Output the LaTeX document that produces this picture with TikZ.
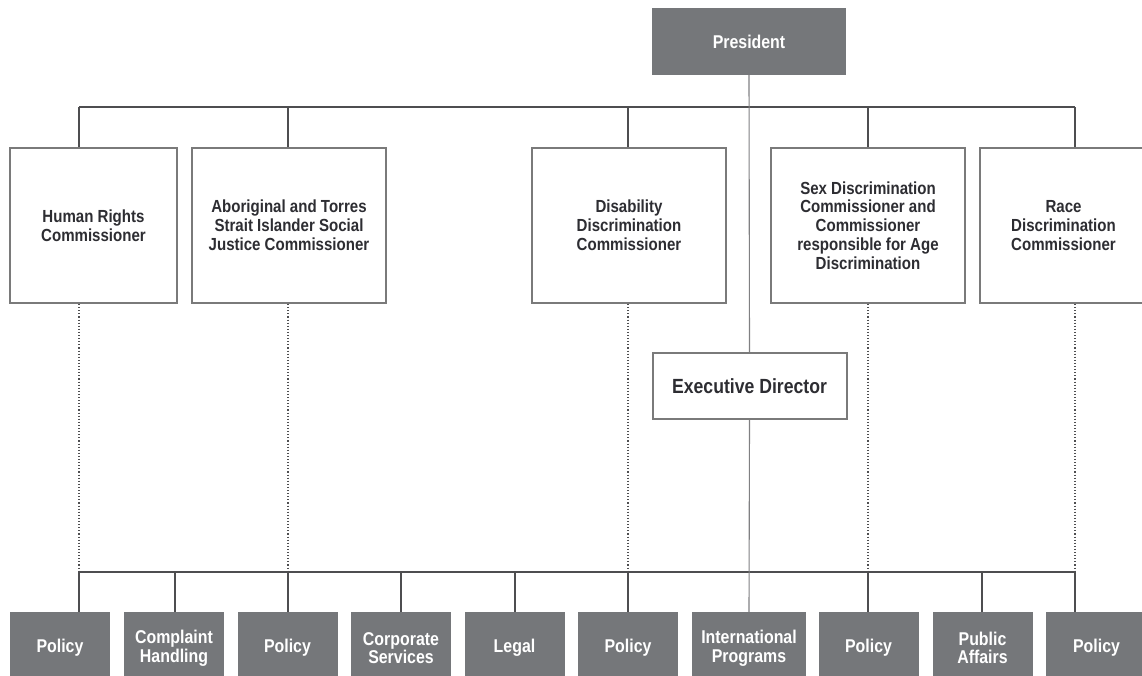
\documentclass[tikz,border=0pt]{standalone}
\usepackage{fontspec}
\setmainfont{Liberation Sans}[FakeStretch=0.86]
\usetikzlibrary{positioning}
\definecolor{chartGrey}{RGB}{117,119,122}
\definecolor{frameGrey}{RGB}{122,122,122}
\definecolor{lineGrey}{RGB}{78,78,80}
\definecolor{trunkGrey}{RGB}{128,128,130}
\definecolor{labelInk}{RGB}{45,45,50}

\tikzset{
  headbox/.style={fill=chartGrey,text=white,font=\bfseries\fontsize{18.5}{20}\selectfont,inner sep=0pt,align=center},
  commbox/.style={draw=frameGrey,line width=2pt,fill=white,text=labelInk,font=\bfseries\fontsize{17.5}{18.8}\selectfont,minimum width=194pt,minimum height=155pt,inner sep=0pt,align=center},
  unitbox/.style={fill=chartGrey,text=white,font=\bfseries\fontsize{18.5}{18.5}\selectfont,minimum width=100pt,minimum height=72pt,inner sep=0pt,align=center},
  bus/.style={draw=lineGrey,line width=1.1pt},
  trunk/.style={draw=trunkGrey,line width=1.1pt},
  dotline/.style={draw=lineGrey,line width=1.1pt,dotted}
}

\begin{document}
\begin{tikzpicture}[x=1pt,y=-1pt]
\useasboundingbox (0,0) rectangle (1142,675);
\clip (0,0) rectangle (1142,675);

% president and executive director
\node[headbox,minimum width=194pt,minimum height=67pt] (pres) at (749,41.5) {President};
\node[commbox,minimum height=66pt,font=\bfseries\fontsize{20.5}{22}\selectfont] (exec) at (749.5,386) {Executive Director};

% commissioners
\node[commbox,minimum width=167pt] (hrc) at (93.5,225.5) {Human Rights\\Commissioner};
\node[commbox] (atsi) at (289,225.5) {Aboriginal and Torres\\Strait Islander Social\\Justice Commissioner};
\node[commbox] (ddc) at (629,225.5) {Disability\\Discrimination\\Commissioner};
\node[commbox] (sdc) at (868,225.5) {Sex Discrimination\\Commissioner and\\Commissioner\\responsible for Age\\Discrimination};
\node[commbox,minimum width=167pt] (rdc) at (1063.5,225.5) {Race\\Discrimination\\Commissioner};

% sections along the bottom
\node[unitbox] (pol1) at (60,648) {Policy};
\node[unitbox] (cmp) at (174,648) {Complaint\\Handling};
\node[unitbox] (pol2) at (287.5,648) {Policy};
\node[unitbox] (corp) at (401,648) {Corporate\\Services};
\node[unitbox] (legal) at (514.5,648) {Legal};
\node[unitbox] (pol3) at (628,648) {Policy};
\node[unitbox,minimum width=114pt] (intl) at (749,648) {International\\Programs};
\node[unitbox] (pol4) at (868.5,648) {Policy};
\node[unitbox] (pub) at (982.5,648) {Public\\Affairs};
\node[unitbox,minimum width=101pt] (pol5) at (1096.5,648) {Policy};

% the two buses
\coordinate (topL) at (79,107);
\coordinate (topR) at (1075,107);
\coordinate (lowL) at (79,572);
\coordinate (lowR) at (1075,572);
\draw[bus] (topL) -- (topR);
\draw[bus] (lowL) -- (lowR);

% main line down the middle
\draw[trunk] (pres.south) -- (exec.north);
\draw[trunk] (exec.south) -- (intl.north);

\foreach \c/\x in {hrc/79,atsi/288,ddc/628,sdc/868,rdc/1075} {
  \draw[bus] (\x,0 |- topL) -- (\x,0 |- \c.north);
  \draw[dotline] (\x,0 |- \c.south) -- (\x,0 |- lowL);
}
\foreach \u/\x in {pol1/79,cmp/175,pol2/288,corp/401,legal/515,pol3/628,pol4/868,pub/982,pol5/1075}
  \draw[bus] (\x,0 |- lowL) -- (\x,0 |- \u.north);
\end{tikzpicture}
\end{document}
